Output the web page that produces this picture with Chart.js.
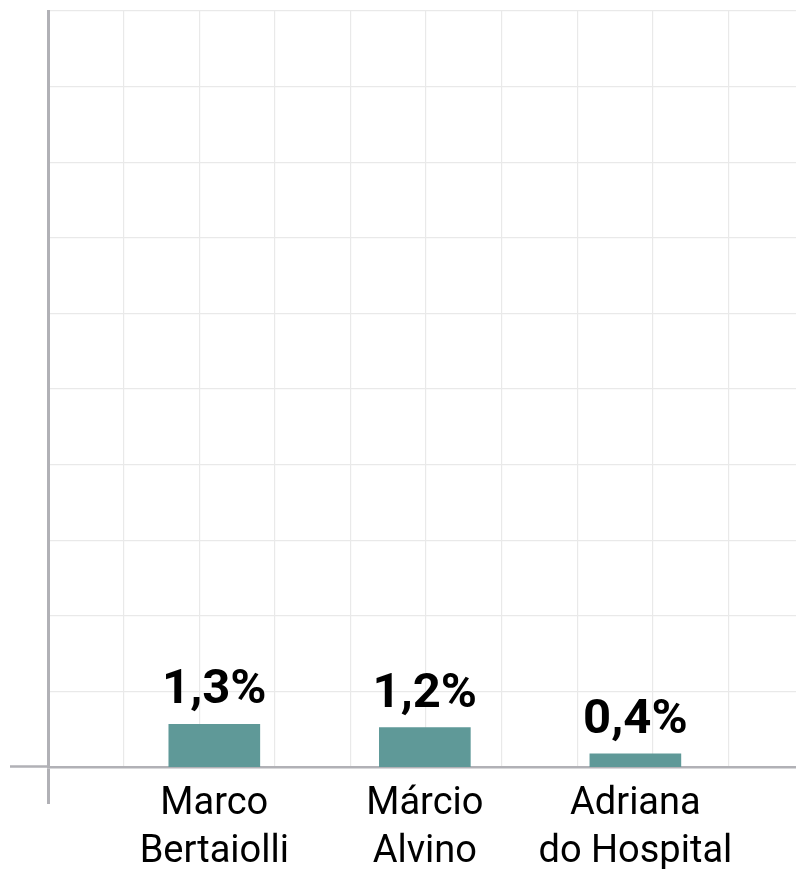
<!DOCTYPE html>
<html>
<head>
<meta charset="utf-8"/>
<script src="https://cdn.jsdelivr.net/npm/chart.js@4.4.0/dist/chart.umd.min.js"></script>
<style>
	body { margin: 0; background: #fff; }
	#caixa { width: 796px; height: 869px; }
</style>
</head>
<body>
<div id="caixa"><canvas id="grafico"></canvas></div>
<script>
var candidatos = [["Marco", "Bertaiolli"], ["Márcio", "Alvino"], ["Adriana", "do Hospital"]];
var votos = [1.3, 1.2, 0.4];
var posicoes = [1, 2, 3];

var corBarra = "#5f9998";
var corEixo = "#b1b1b6";
var corGrade = "#e9e9e9";

// escreve o percentual em cima de cada barra
var rotulos = {
	id: "rotulos",
	afterDatasetsDraw: function(chart) {
		var ctx = chart.ctx;
		var meta = chart.getDatasetMeta(0);
		ctx.save();
		ctx.font = "bold 49px Roboto";
		ctx.fillStyle = "#000";
		ctx.textAlign = "center";
		ctx.textBaseline = "alphabetic";
		meta.data.forEach(function(barra, i) {
			var txt = votos[i].toFixed(1).replace(".", ",") + "%";
			ctx.fillText(txt, barra.x, barra.y - 21);
		});
		ctx.restore();
	}
};

var dados = votos.map(function(v, i) { return { x: posicoes[i], y: v }; });

new Chart(document.getElementById("grafico"), {
	type: "bar",
	data: {
		datasets: [{
			data: dados,
			backgroundColor: corBarra,
			borderWidth: 0,
			barThickness: 91,
			xAxisID: "x",
			yAxisID: "y"
		}]
	},
	options: {
		responsive: true,
		maintainAspectRatio: false,
		animation: false,
		layout: { padding: { top: 11, left: 0, right: 0, bottom: 0 } },
		plugins: { legend: { display: false }, tooltip: { enabled: false } },
		scales: {
			x: {
				type: "linear", position: "bottom", bounds: "data", offset: false,
				min: 0.21, max: 3.763,
				afterBuildTicks: function(s) {
					s.ticks = [{ value: s.min }].concat(posicoes.map(function(p) { return { value: p }; }));
				},
				afterFit: function(s) { s.height = 102; },
				ticks: {
					padding: -23, autoSkip: false, maxRotation: 0, color: "#000",
					font: { family: "Roboto", size: 38, lineHeight: 1.26 },
					callback: function(v, i) { return i === 0 ? "" : candidatos[i - 1]; }
				},
				grid: {
					offset: false, drawOnChartArea: false, drawTicks: true,
					tickLength: 37, tickWidth: 3,
					tickColor: function(c) { return c.index === 0 ? corEixo : "transparent"; }
				},
				border: { display: true, color: corEixo, width: 2.5 }
			},
			xg: {
				type: "linear", position: "bottom", bounds: "data", offset: false,
				min: 0, max: 748 / 75.6,
				ticks: { display: false, stepSize: 1, includeBounds: false },
				grid: { offset: false, color: corGrade, lineWidth: 1.2, drawTicks: false },
				border: { display: false }
			},
			y: { display: false, min: 0, max: 23 },
			yg: {
				type: "linear", position: "left", bounds: "data",
				min: 0, max: 10,
				ticks: { display: false, stepSize: 1 },
				afterFit: function(s) { s.width = 48; },
				grid: {
					color: corGrade, lineWidth: 1.2, drawTicks: true,
					tickLength: 38, tickWidth: 2.5,
					tickColor: function(c) { return c.tick && c.tick.value === 0 ? corEixo : "transparent"; }
				},
				border: { color: corEixo, width: 3 }
			}
		}
	},
	plugins: [rotulos]
});
</script>
</body>
</html>
